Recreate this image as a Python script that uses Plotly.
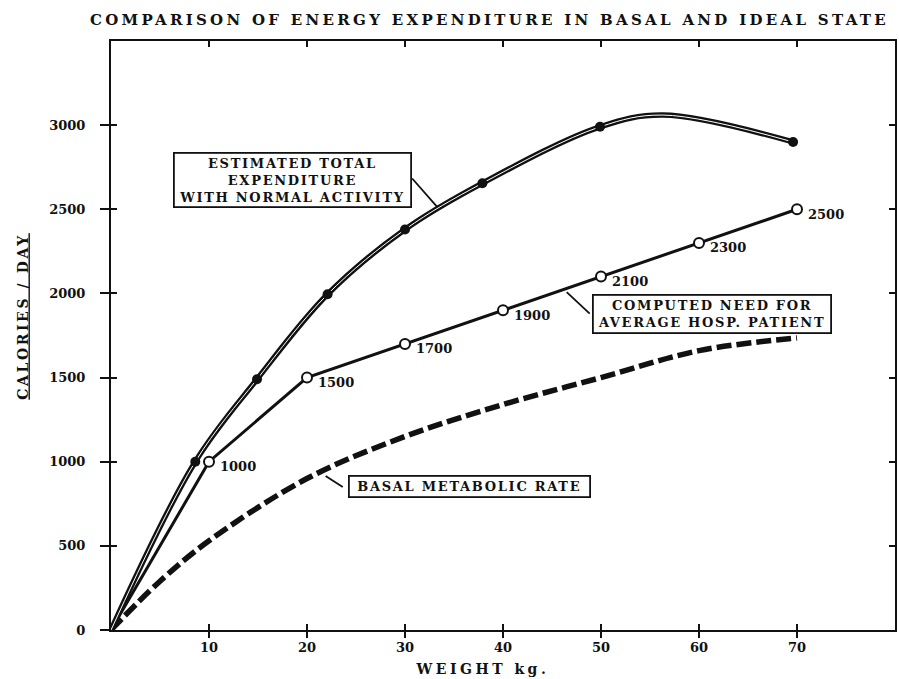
import plotly.graph_objects as go

title_text = "COMPARISON OF ENERGY EXPENDITURE IN BASAL AND IDEAL STATE"
x_title = "WEIGHT kg."
y_title = "CALORIES / DAY"

# Estimated total expenditure with normal activity (curve points)
total_x = [0, 8.6, 14.9, 22.1, 30.0, 37.9, 49.9, 56.3, 69.6]
total_y = [0, 1000, 1490, 1995, 2380, 2655, 2990, 3060, 2900]
total_dot = [False, True, True, True, True, True, True, False, True]

# Computed need for average hospital patient
need_x = [0, 10, 20, 30, 40, 50, 60, 70]
need_y = [0, 1000, 1500, 1700, 1900, 2100, 2300, 2500]
need_labels = ["", "1000", "1500", "1700", "1900", "2100", "2300", "2500"]

# Basal metabolic rate
basal_x = [0, 5, 10, 20, 30, 40, 50, 60, 70]
basal_y = [0, 290, 530, 900, 1150, 1340, 1500, 1660, 1735]

x_ticks = [10, 20, 30, 40, 50, 60, 70]
y_ticks = [0, 500, 1000, 1500, 2000, 2500, 3000]

# callout boxes: text, centre (x, y), box width, pointer tail (x, y), pointer head (x, y)
box_texts = ["ESTIMATED TOTAL<br>EXPENDITURE<br>WITH NORMAL ACTIVITY",
             "COMPUTED NEED FOR<br>AVERAGE HOSP. PATIENT",
             "BASAL METABOLIC RATE"]
box_cx = [18.5, 61.3, 36.6]
box_cy = [2674, 1878, 850]
box_w = [231, 232, 235]
ptr_tail_x = [30.6, 49.0, 23.8]
ptr_tail_y = [2692, 1872, 844]
ptr_head_x = [33.3, 46.5, 21.9]
ptr_head_y = [2513, 2008, 915]

FONT = "DejaVu Serif"
BLACK = "#111111"

fig = go.Figure()

fig.add_trace(go.Scatter(x=basal_x, y=basal_y, mode="lines",
                         line=dict(color=BLACK, width=5.5, dash="15px,5px", shape="spline"),
                         hoverinfo="skip"))

fig.add_trace(go.Scatter(x=need_x, y=need_y, mode="lines",
                         line=dict(color=BLACK, width=3), hoverinfo="skip"))
fig.add_trace(go.Scatter(x=need_x[1:], y=need_y[1:], mode="markers",
                         marker=dict(symbol="circle", size=10, color="white",
                                     line=dict(color=BLACK, width=2)),
                         hoverinfo="skip"))

fig.add_trace(go.Scatter(x=total_x, y=total_y, mode="lines",
                         line=dict(color=BLACK, width=5.5, shape="spline"), hoverinfo="skip"))
fig.add_trace(go.Scatter(x=total_x, y=total_y, mode="lines",
                         line=dict(color="white", width=1.0, shape="spline"), hoverinfo="skip"))
fig.add_trace(go.Scatter(x=[x for x, d in zip(total_x, total_dot) if d],
                         y=[y for y, d in zip(total_y, total_dot) if d],
                         mode="markers", marker=dict(size=10, color=BLACK),
                         hoverinfo="skip"))

# invisible trace for the inside-tick overlay axes
fig.add_trace(go.Scatter(x=[], y=[], xaxis="x2", yaxis="y2", hoverinfo="skip"))

annotations = []
for x, y, t in zip(need_x, need_y, need_labels):
    if t:
        annotations.append(dict(x=x, y=y, xref="x", yref="y", text=t, showarrow=False,
                                xanchor="left", yanchor="middle", xshift=9, yshift=-5,
                                font=dict(family=FONT, size=13, color=BLACK, weight="bold")))

for t, cx, cy, w, tx, ty, hx, hy in zip(box_texts, box_cx, box_cy, box_w, ptr_tail_x,
                                        ptr_tail_y, ptr_head_x, ptr_head_y):
    annotations.append(dict(x=hx, y=hy, ax=tx, ay=ty, xref="x", yref="y", axref="x", ayref="y",
                            text="", showarrow=True, arrowhead=0, arrowwidth=1.8,
                            arrowcolor=BLACK, standoff=0, startstandoff=0))
    annotations.append(dict(x=cx, y=cy, xref="x", yref="y", text=t, showarrow=False,
                            xanchor="center", yanchor="middle", align="center", width=w,
                            bordercolor=BLACK, borderwidth=1.8, borderpad=2, bgcolor="white",
                            font=dict(family=FONT, size=13, color=BLACK, weight="bold")))

annotations.append(dict(x=0.5, y=1, xref="paper", yref="paper", xshift=-14, yshift=21,
                        text=title_text, showarrow=False, xanchor="center", yanchor="middle",
                        font=dict(family=FONT, size=15, color=BLACK, weight="bold")))
annotations.append(dict(x=0, y=0.5, xref="paper", yref="paper", xshift=-89, yshift=19,
                        text=y_title, textangle=-90, showarrow=False,
                        xanchor="center", yanchor="middle",
                        font=dict(family=FONT, size=14, color=BLACK, weight="bold",
                                  lineposition="under")))
annotations.append(dict(x=0.5, y=0, xref="paper", yref="paper", xshift=-21, yshift=-39,
                        text=x_title, showarrow=False, xanchor="center", yanchor="middle",
                        font=dict(family=FONT, size=14, color=BLACK, weight="bold")))

tickfont = dict(family=FONT, size=13, color=BLACK, weight="bold")

fig.update_layout(
    width=899, height=679,
    margin=dict(l=111, r=2, t=41, b=49),
    paper_bgcolor="white", plot_bgcolor="white",
    showlegend=False,
    annotations=annotations,
    xaxis=dict(range=[0, 80], tickvals=x_ticks, ticks="outside", ticklen=6, tickwidth=2,
               tickcolor=BLACK, showline=True, linecolor=BLACK, linewidth=2, mirror=True,
               showgrid=False, zeroline=False, tickfont=tickfont, ticklabelstandoff=-2),
    yaxis=dict(range=[0, 3500], tickvals=y_ticks, ticks="outside", ticklen=9, tickwidth=2,
               tickcolor=BLACK, showline=True, linecolor=BLACK, linewidth=2, mirror=True,
               showgrid=False, zeroline=False, tickfont=tickfont, ticklabelstandoff=12),
    xaxis2=dict(range=[0, 80], overlaying="x", anchor="y2", tickvals=x_ticks, ticks="inside",
                ticklen=6, tickwidth=2, tickcolor=BLACK, mirror="ticks", showline=True,
                linecolor=BLACK, linewidth=2, showticklabels=False, showgrid=False,
                zeroline=False),
    yaxis2=dict(range=[0, 3500], overlaying="y", anchor="x2", tickvals=y_ticks, ticks="inside",
                ticklen=6, tickwidth=2, tickcolor=BLACK, mirror="ticks", showline=True,
                linecolor=BLACK, linewidth=2, showticklabels=False, showgrid=False,
                zeroline=False),
)

# page without the browser's default body margin; letter-spaced lettering as in the scan
post_js = """
document.body.style.margin = '0';
var gd = document.getElementById('{plot_id}');
gd.querySelectorAll('text.annotation-text').forEach(function(t) {
  var s = t.textContent;
  if (s.indexOf('COMPARISON') === 0) { t.style.letterSpacing = '3.3px'; }
  else if (s.indexOf('CALORIES') === 0) { t.style.letterSpacing = '2.6px'; }
  else if (s.indexOf('WEIGHT') === 0) { t.style.letterSpacing = '3.5px'; }
  else if (/[A-Z]{4}/.test(s)) { t.style.letterSpacing = '1.7px'; }
});
"""

fig.write_html("out.html", post_script=post_js,
               config={"displayModeBar": False, "staticPlot": True})
